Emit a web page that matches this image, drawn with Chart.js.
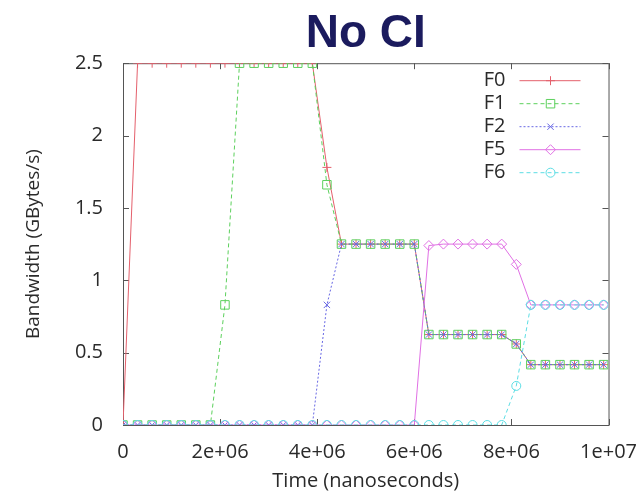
<!DOCTYPE html>
<html>
<head>
<meta charset="utf-8">
<script src="https://cdn.jsdelivr.net/npm/chart.js@4.4.1/dist/chart.umd.min.js"></script>
<style>
  html, body { margin: 0; padding: 0; background: #fff; }
</style>
</head>
<body>
<canvas id="chart" width="644" height="495"></canvas>
<script>
// sample times (ns)
const times = [0, 300000, 600000, 900000, 1200000, 1500000, 1800000, 2100000, 2400000,
  2700000, 3000000, 3300000, 3600000, 3900000, 4200000, 4500000, 4800000, 5100000,
  5400000, 5700000, 6000000, 6300000, 6600000, 6900000, 7200000, 7500000, 7800000,
  8100000, 8400000, 8700000, 9000000, 9300000, 9600000, 9900000];

// bandwidth per flow (GBytes/s)
const f0 = [0, 2.5, 2.5, 2.5, 2.5, 2.5, 2.5, 2.5, 2.5, 2.5, 2.5, 2.5, 2.5, 2.5,
  1.78, 1.25, 1.25, 1.25, 1.25, 1.25, 1.25, 0.625, 0.625, 0.625, 0.625, 0.625, 0.625,
  0.56, 0.417, 0.417, 0.417, 0.417, 0.417, 0.417];
const f1 = [0, 0, 0, 0, 0, 0, 0, 0.83, 2.5, 2.5, 2.5, 2.5, 2.5, 2.5,
  1.66, 1.25, 1.25, 1.25, 1.25, 1.25, 1.25, 0.625, 0.625, 0.625, 0.625, 0.625, 0.625,
  0.56, 0.417, 0.417, 0.417, 0.417, 0.417, 0.417];
const f2 = [0, 0, 0, 0, 0, 0, 0, 0, 0, 0, 0, 0, 0, 0,
  0.83, 1.25, 1.25, 1.25, 1.25, 1.25, 1.25, 0.625, 0.625, 0.625, 0.625, 0.625, 0.625,
  0.56, 0.417, 0.417, 0.417, 0.417, 0.417, 0.417];
const f5 = [0, 0, 0, 0, 0, 0, 0, 0, 0, 0, 0, 0, 0, 0, 0, 0, 0, 0, 0, 0, 0,
  1.24, 1.25, 1.25, 1.25, 1.25, 1.25, 1.11, 0.83, 0.83, 0.83, 0.83, 0.83, 0.83];
const f6 = [0, 0, 0, 0, 0, 0, 0, 0, 0, 0, 0, 0, 0, 0, 0, 0, 0, 0, 0, 0, 0,
  0, 0, 0, 0, 0, 0, 0.27, 0.83, 0.83, 0.83, 0.83, 0.83, 0.83];

const xTicks = [0, 2000000, 4000000, 6000000, 8000000, 10000000];
const xTickLabels = ['0', '2e+06', '4e+06', '6e+06', '8e+06', '1e+07'];
const yTicks = [0, 0.5, 1, 1.5, 2, 2.5];
const yTickLabels = ['0', '0.5', '1', '1.5', '2', '2.5'];

const FONT = "'Open Sans', 'DejaVu Sans', sans-serif";
const TEXT = '#2a2a2a';

function pts(vals) {
  return vals.map(function(v, i) { return { x: times[i], y: v }; });
}

// order: later flows are drawn on top, like gnuplot does
function series(label, vals, color, style, radius, dash, order) {
  return {
    label: label,
    data: pts(vals),
    order: order,
    borderColor: color,
    borderWidth: 1,
    borderDash: dash,
    pointStyle: style,
    pointRadius: radius,
    pointBorderWidth: 1,
    pointBorderColor: color,
    pointBackgroundColor: 'rgba(0,0,0,0)',
    fill: false,
    tension: 0
  };
}

// gnuplot-like frame with inward ticks, plus the key inside the plot
const frame = {
  id: 'frame',
  beforeDatasetsDraw(chart) {
    const a = chart.chartArea, ctx = chart.ctx;
    const xs = chart.scales.x, ys = chart.scales.y;
    ctx.save();
    ctx.strokeStyle = '#555';
    ctx.lineWidth = 1;
    ctx.strokeRect(a.left + 0.5, a.top + 0.5, a.right - a.left, a.bottom - a.top);
    ctx.beginPath();
    yTicks.forEach(function(v) {
      const y = Math.round(ys.getPixelForValue(v)) + 0.5;
      ctx.moveTo(a.left, y); ctx.lineTo(a.left + 6, y);
      ctx.moveTo(a.right, y); ctx.lineTo(a.right - 6, y);
    });
    xTicks.forEach(function(v) {
      const x = Math.round(xs.getPixelForValue(v)) + 0.5;
      ctx.moveTo(x, a.bottom); ctx.lineTo(x, a.bottom - 6);
      ctx.moveTo(x, a.top); ctx.lineTo(x, a.top + 6);
    });
    ctx.stroke();
    ctx.restore();
  },
  afterDatasetsDraw(chart) {
    const a = chart.chartArea, ctx = chart.ctx;
    ctx.save();
    ctx.font = '20px ' + FONT;
    ctx.textAlign = 'right';
    ctx.textBaseline = 'middle';
    chart.data.datasets.forEach(function(ds, i) {
      const y = a.top + 17 + i * 23;
      ctx.fillStyle = TEXT;
      ctx.fillText(ds.label, a.right - 103, y);
      ctx.strokeStyle = ds.borderColor;
      ctx.lineWidth = 1;
      ctx.setLineDash(ds.borderDash || []);
      ctx.beginPath();
      ctx.moveTo(a.right - 89, y + 0.5);
      ctx.lineTo(a.right - 28, y + 0.5);
      ctx.stroke();
      ctx.setLineDash([]);
      ctx.fillStyle = 'rgba(0,0,0,0)';
      Chart.helpers.drawPoint(ctx, {
        pointStyle: ds.pointStyle, radius: ds.pointRadius, borderWidth: 1
      }, a.right - 58, y + 0.5);
    });
    ctx.restore();
  }
};

new Chart(document.getElementById('chart'), {
  type: 'line',
  data: {
    datasets: [
      series('F0', f0, '#e4606c', 'cross', 4.5, [], 5),
      series('F1', f1, '#5cd05c', 'rect', 6, [4, 3], 4),
      series('F2', f2, '#6868e4', 'crossRot', 4.5, [2, 2], 3),
      series('F5', f5, '#e070e4', 'rectRot', 5, [], 2),
      series('F6', f6, '#5cdde4', 'circle', 4.5, [4, 3], 1)
    ]
  },
  options: {
    responsive: false,
    animation: false,
    devicePixelRatio: 1,
    layout: { padding: { left: 0, right: 34, top: 0, bottom: 0 } },
    plugins: {
      legend: { display: false },
      tooltip: { enabled: false },
      title: {
        display: true,
        fullSize: false,
        text: 'No CI',
        color: '#1b1b5e',
        font: { family: "'Liberation Sans', Arial, sans-serif", size: 46, weight: 'bold', lineHeight: 1.2 },
        padding: { top: 7, bottom: 1 }
      }
    },
    scales: {
      x: {
        type: 'linear',
        min: 0,
        max: 10000000,
        grid: { display: false },
        border: { display: false },
        afterBuildTicks: function(s) { s.ticks = xTicks.map(function(v) { return { value: v }; }); },
        afterFit: function(s) { s.height = 70; },
        ticks: {
          autoSkip: false,
          maxRotation: 0,
          padding: 7,
          color: TEXT,
          font: { family: FONT, size: 20 },
          callback: function(v, i) { return xTickLabels[i]; }
        },
        title: {
          display: true,
          text: 'Time (nanoseconds)',
          color: TEXT,
          font: { family: FONT, size: 20 },
          padding: { top: 0, bottom: 2 }
        }
      },
      y: {
        min: 0,
        max: 2.5,
        grid: { display: false },
        border: { display: false },
        afterBuildTicks: function(s) { s.ticks = yTicks.map(function(v) { return { value: v }; }); },
        afterFit: function(s) { s.width = 123; },
        ticks: {
          padding: 12,
          color: TEXT,
          font: { family: FONT, size: 20 },
          callback: function(v, i) { return yTickLabels[i]; }
        },
        title: {
          display: true,
          text: 'Bandwidth (GBytes/s)',
          color: TEXT,
          font: { family: FONT, size: 19 },
          padding: { top: 22, bottom: 0 }
        }
      }
    }
  },
  plugins: [frame]
});
</script>
</body>
</html>
